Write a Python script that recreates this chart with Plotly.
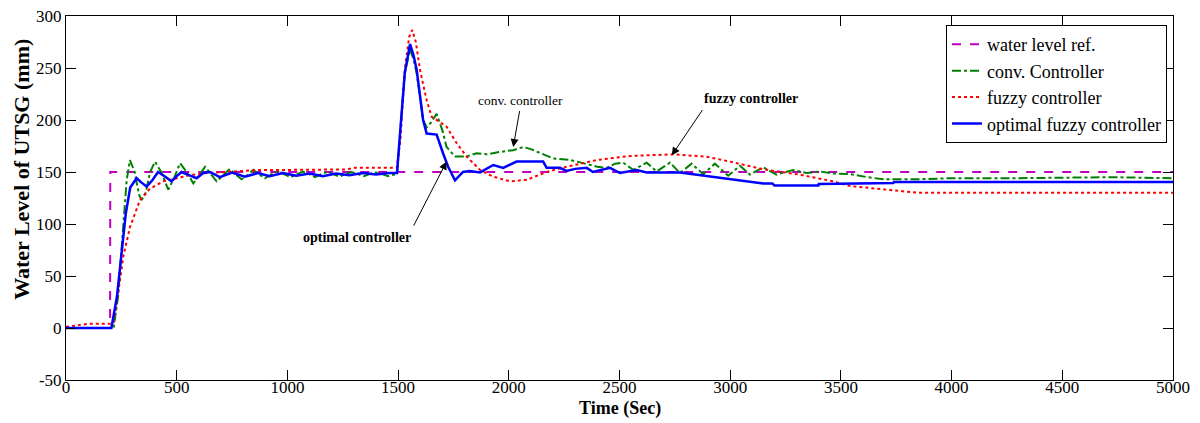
import plotly.graph_objects as go

# ---------------- data ----------------
ref_t = [0, 199, 200, 5000]
ref_v = [0, 0, 150, 150]

conv_t = [0, 215, 235, 250, 262, 274, 289, 310, 330, 342, 360, 380, 402, 430, 462, 490, 515, 545, 575,
          600, 628, 655, 680, 710, 740, 765, 793, 820, 846, 870, 898, 930, 960, 985, 1015, 1045, 1070,
          1098, 1125, 1152, 1180, 1208, 1235, 1262, 1290, 1318, 1345, 1372, 1400, 1428, 1455, 1480,
          1495, 1510, 1530, 1554, 1570, 1584, 1600, 1613, 1629, 1650, 1674, 1700, 1719, 1757, 1810,
          1855, 1900, 1950, 2020, 2065, 2100, 2126, 2201, 2276, 2352, 2400, 2442, 2480, 2517, 2562,
          2623, 2668, 2728, 2773, 2826, 2878, 2931, 2991, 3044, 3089, 3149, 3209, 3285, 3345, 3406,
          3470, 3541, 3620, 3692, 3842, 3993, 4277, 4729, 5000]
conv_v = [0, 0, 30, 70, 110, 142, 161.5, 150, 128, 123, 130, 150, 160, 150, 133, 145, 158.5, 150, 139,
          146, 155, 148, 141, 147, 153, 148, 143, 147, 152, 148, 144, 148, 151, 148, 145, 148, 150.5,
          148, 145, 148, 150, 148, 145.5, 148, 150, 148, 146, 148, 149.5, 148, 146, 147.5,
          147, 190, 245, 268, 258, 245, 220, 200, 193, 198, 206, 190, 174, 165, 165,
          168, 167, 169, 171, 174, 172, 169.6, 163, 161.7, 158, 155, 154, 158, 159, 152,
          159, 150.5, 159, 149, 158, 148, 158, 146.5, 156, 147.5, 154.5, 147.5, 152, 149, 150.5,
          148.5, 148, 145, 143, 143, 144, 144, 145, 144]

fuzzy_t = [0, 60, 100, 200, 215, 240, 259, 289, 334, 379, 440, 500, 560, 635, 876, 1000, 1268, 1300,
           1494, 1510, 1531, 1550, 1564, 1580, 1599, 1629, 1652, 1689, 1719, 1765, 1810, 1870, 1930,
           2005, 2081, 2171, 2261, 2397, 2547, 2742, 2894, 2999, 3149, 3315, 3466, 3541, 3707, 3797,
           3850, 5000]
fuzzy_v = [1, 3, 4, 4, 5, 40, 69, 97, 123, 134, 141, 144, 147, 149, 152, 152, 152.5, 154,
           154, 180, 250, 280, 286.5, 275, 248, 219, 203, 198, 193.6, 177.6, 164.7, 152, 145.5,
           141, 142.5, 150, 155, 161.5, 165.4, 167, 164.7, 160, 152.6, 147.4, 141, 136.5, 133.3, 131,
           130, 130]

opt_t = [0, 205, 230, 248, 270, 290, 319, 340, 364, 390, 416, 445, 477, 500, 522, 555, 590, 620, 650,
         695, 750, 808, 867, 920, 980, 1040, 1100, 1160, 1220, 1280, 1340, 1400, 1460, 1495,
         1510, 1530, 1554, 1570, 1584, 1600, 1613, 1629, 1674, 1703, 1726, 1757, 1793, 1823, 1870,
         1930, 1975, 2035, 2155, 2171, 2231, 2260, 2300, 2352, 2380, 2457, 2502, 2577, 2623, 2773,
         2848, 2999, 3149, 3190, 3200, 3398, 3400, 3737, 3740, 5000]
opt_v = [0, 0, 30, 65, 110, 135, 144, 140, 136, 142, 150, 146, 141, 146, 150, 147, 144, 149, 150,
         145, 149.5, 145.5, 149, 146, 149, 146.5, 148.5, 146, 148.5, 147, 149, 147.5, 149, 149,
         190, 245, 273, 262, 248, 220, 200, 187, 186, 168, 155, 142, 150, 151, 149.6,
         156.7, 154, 160, 160, 154, 154, 151, 153, 154, 150, 154, 149, 152, 149.5, 149.5,
         147.5, 143, 139, 139, 137, 137, 138.5, 139.5, 140.5, 140.5]

x_ticks = [0, 500, 1000, 1500, 2000, 2500, 3000, 3500, 4000, 4500, 5000]
y_ticks = [-50, 0, 50, 100, 150, 200, 250, 300]

SERIF = "Liberation Serif, Times New Roman, serif"

fig = go.Figure()
fig.add_trace(go.Scatter(x=ref_t, y=ref_v, mode="lines", name="water level ref.",
                         line=dict(color="#C000C0", width=2, dash="dash")))
fig.add_trace(go.Scatter(x=conv_t, y=conv_v, mode="lines", name="conv. Controller",
                         line=dict(color="#008000", width=2, dash="dashdot")))
fig.add_trace(go.Scatter(x=fuzzy_t, y=fuzzy_v, mode="lines", name="fuzzy controller",
                         line=dict(color="#FF0000", width=2, dash="dot")))
fig.add_trace(go.Scatter(x=opt_t, y=opt_v, mode="lines", name="optimal fuzzy controller",
                         line=dict(color="#0000FF", width=2.5)))

# annotations: text labels
fig.add_annotation(x=1315, y=87, xref="x", yref="y", text="<b>optimal controller</b>",
                   showarrow=False, font=dict(family=SERIF, size=14, color="black"))
fig.add_annotation(x=2055, y=219, xref="x", yref="y", text="conv. controller",
                   showarrow=False, font=dict(family=SERIF, size=13.5, color="black"))
fig.add_annotation(x=3094, y=221, xref="x", yref="y", text="<b>fuzzy controller</b>",
                   showarrow=False, font=dict(family=SERIF, size=14, color="black"))
# arrows
for (tx, ty, hx, hy) in [(1567, 97, 1719, 160), (2050, 210, 2020, 174), (2879, 211, 2736, 166)]:
    fig.add_annotation(x=hx, y=hy, ax=tx, ay=ty, xref="x", yref="y", axref="x", ayref="y",
                       text="", showarrow=True, arrowhead=2, arrowsize=1.6, arrowwidth=1,
                       arrowcolor="black")

# axis titles as paper annotations (placed like the reference)
fig.add_annotation(x=0.5, y=-0.077, xref="paper", yref="paper", xanchor="center", yanchor="middle",
                   text="<b>Time (Sec)</b>", showarrow=False,
                   font=dict(family=SERIF, size=18, color="black"))
fig.add_annotation(x=-0.0398, y=0.58, xref="paper", yref="paper", xanchor="center", yanchor="middle",
                   text="<b>Water Level of UTSG (mm)</b>", showarrow=False, textangle=-90,
                   font=dict(family=SERIF, size=22, color="black"))

# page body adds an 8px offset, so the figure is sized/margined to compensate
fig.update_layout(
    width=1192, height=415,
    margin=dict(l=58, r=27, t=8, b=43),
    paper_bgcolor="white", plot_bgcolor="white",
    font=dict(family=SERIF, size=17, color="black"),
    showlegend=True,
    legend=dict(x=0.9946, y=0.975, xanchor="right", yanchor="top",
                bgcolor="white", bordercolor="black", borderwidth=1,
                font=dict(family=SERIF, size=18, color="black"),
                tracegroupgap=0),
)
fig.update_xaxes(range=[0, 5000], tickvals=x_ticks, ticktext=[str(v) for v in x_ticks],
                 ticks="inside", ticklen=10, tickcolor="black", showline=True, linecolor="black",
                 linewidth=1, mirror="allticks", showgrid=False, zeroline=False, automargin=False,
                 ticklabelstandoff=-8, ticklabeloverflow="allow",
                 tickfont=dict(family=SERIF, size=17, color="black"))
fig.update_yaxes(range=[-50, 300], tickvals=y_ticks, ticktext=[str(v) for v in y_ticks],
                 ticks="inside", ticklen=10, tickcolor="black", showline=True, linecolor="black",
                 linewidth=1, mirror="allticks", showgrid=False, zeroline=False, automargin=False,
                 ticklabeloverflow="allow",
                 tickfont=dict(family=SERIF, size=17, color="black"))

fig.write_html("out.html")
